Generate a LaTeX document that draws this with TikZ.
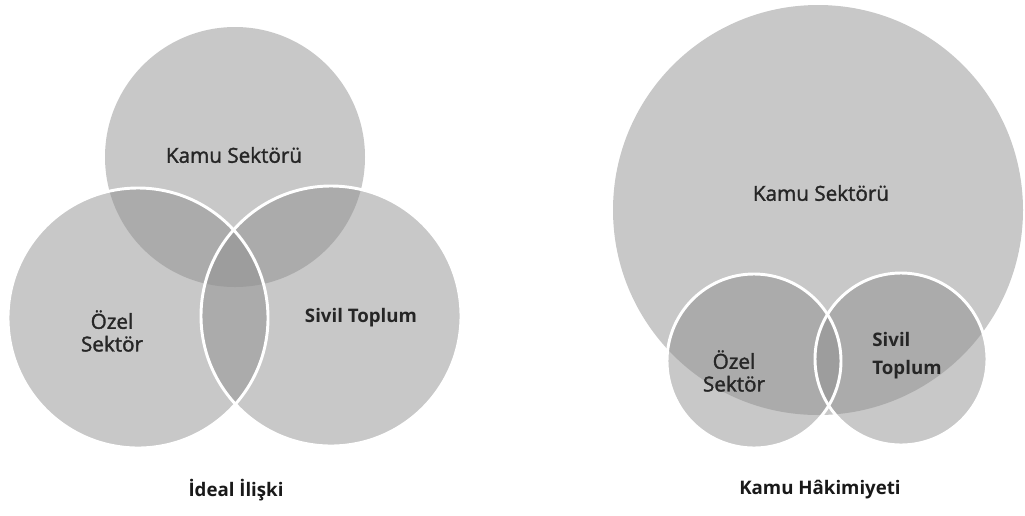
\documentclass[tikz,border=0pt]{standalone}
\usepackage{fontspec}
\setmainfont{Open Sans}
\newfontfamily\semiOpen{Open Sans}[FakeBold=1.6]

\definecolor{baseGray}{HTML}{C8C8C8}
\definecolor{midGray}{HTML}{ABABAB}
\definecolor{darkGray}{HTML}{9D9D9D}

\begin{document}
\begin{tikzpicture}[x=0.75pt,y=-0.75pt]
  \tikzset{sector/.style = {font=\semiOpen\fontsize{15.5}{17}\selectfont, text=black!85, align=center, inner sep=0pt}}
  \tikzset{boldsector/.style = {sector, font=\fontsize{14}{21}\selectfont\bfseries}}
  \tikzset{caption/.style = {font=\fontsize{14}{17}\selectfont\bfseries, text=black!90, inner sep=0pt}}
  \tikzset{rim/.style = {draw=white, line width=2.2pt}}

  \useasboundingbox (0,0) rectangle (1025,515);

  % ideal iliski
  \coordinate (KA) at (235,157);
  \coordinate (OZ) at (138,318);
  \coordinate (SI) at (331,316);

  \fill[baseGray] (KA) circle (130) (OZ) circle (130) (SI) circle (130);
  \begin{scope}
    \clip (KA) circle (130);
    \fill[midGray] (OZ) circle (130) (SI) circle (130);
  \end{scope}
  \begin{scope}
    \clip (OZ) circle (130);
    \fill[midGray] (SI) circle (130);
  \end{scope}
  \begin{scope}
    \clip (KA) circle (130);
    \clip (OZ) circle (130);
    \fill[darkGray] (SI) circle (130);
  \end{scope}
  \draw[rim] (OZ) circle (130);
  \draw[rim] (SI) circle (130);

  \node[sector] (kamu) at (234,155) {Kamu Sektörü};
  \node[sector] (ozel) at (112,331) {Özel\\Sektör};
  \node[boldsector] (sivil) at (361,318) {Sivil Toplum};
  \node[caption] (ideal) at (236,490) {İdeal İlişki};

  % kamu hakimiyeti
  \coordinate (KB) at (818,210);
  \coordinate (OB) at (754,361);
  \coordinate (SB) at (901,359);

  \fill[baseGray] (KB) circle (205) (OB) circle (87) (SB) circle (86);
  \begin{scope}
    \clip (KB) circle (205);
    \fill[midGray] (OB) circle (87) (SB) circle (86);
  \end{scope}
  \begin{scope}
    \clip (OB) circle (87);
    \fill[midGray] (SB) circle (86);
  \end{scope}
  \begin{scope}
    \clip (KB) circle (205);
    \clip (OB) circle (87);
    \fill[darkGray] (SB) circle (86);
  \end{scope}
  \draw[rim] (OB) circle (87);
  \draw[rim] (SB) circle (86);

  \node[sector] (kamu2) at (821,193) {Kamu Sektörü};
  \node[sector] (ozel2) at (734,371) {Özel\\Sektör};
  \node[boldsector, align=left] (sivil2) at (907,356) {Sivil\\Toplum};
  \node[caption] (hakim) at (820,490) {Kamu Hâkimiyeti};
\end{tikzpicture}
\end{document}
